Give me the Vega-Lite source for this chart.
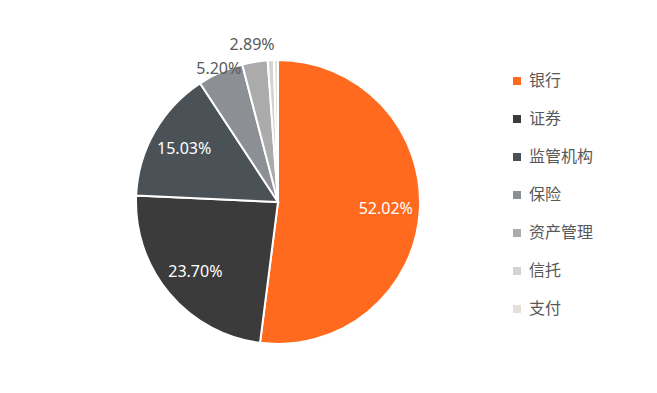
{
  "$schema": "https://vega.github.io/schema/vega-lite/v6.json",
  "width": 556,
  "height": 404,
  "padding": 0,
  "background": "white",
  "config": {"view": {"stroke": null}},
  "data": {"values": [
    {"i": 1, "name": "银行", "value": 52.02, "label": "52.02%"},
    {"i": 2, "name": "证券", "value": 23.70, "label": "23.70%"},
    {"i": 3, "name": "监管机构", "value": 15.03, "label": "15.03%"},
    {"i": 4, "name": "保险", "value": 5.20, "label": "5.20%"},
    {"i": 5, "name": "资产管理", "value": 2.89, "label": "2.89%"},
    {"i": 6, "name": "信托", "value": 0.70, "label": ""},
    {"i": 7, "name": "支付", "value": 0.46, "label": ""}
  ]},
  "encoding": {
    "theta": {"field": "value", "type": "quantitative", "stack": true},
    "order": {"field": "i", "type": "quantitative"}
  },
  "layer": [
    {
      "mark": {"type": "arc", "outerRadius": 142, "stroke": "white", "strokeWidth": 2},
      "encoding": {
        "color": {
          "field": "name", "type": "nominal",
          "scale": {
            "domain": ["银行", "证券", "监管机构", "保险", "资产管理", "信托", "支付"],
            "range": ["#FF6A1F", "#3B3B3B", "#4A5258", "#8C8F93", "#ABABAB", "#D3D3D3", "#E3DFD9"]
          },
          "legend": {
            "title": null,
            "orient": "none",
            "legendX": 509,
            "legendY": 73,
            "symbolType": "square",
            "symbolSize": 64,
            "symbolStrokeWidth": 0,
            "labelFont": "Noto Sans CJK SC",
            "labelFontSize": 16,
            "labelColor": "#595959",
            "labelOffset": 4,
            "rowPadding": 22
          }
        }
      }
    },
    {
      "mark": {"type": "text", "radius": 108, "fill": "white", "font": "Noto Sans", "fontSize": 16},
      "encoding": {
        "text": {"condition": {"test": "datum.value > 10", "field": "label"}, "value": ""}
      }
    },
    {
      "mark": {"type": "text", "radius": 146, "fill": "#595959", "font": "Noto Sans", "fontSize": 16},
      "encoding": {
        "text": {"condition": {"test": "datum.name === '保险'", "field": "label"}, "value": ""}
      }
    },
    {
      "mark": {"type": "text", "radius": 159, "fill": "#595959", "font": "Noto Sans", "fontSize": 16},
      "encoding": {
        "text": {"condition": {"test": "datum.name === '资产管理'", "field": "label"}, "value": ""}
      }
    }
  ]
}
